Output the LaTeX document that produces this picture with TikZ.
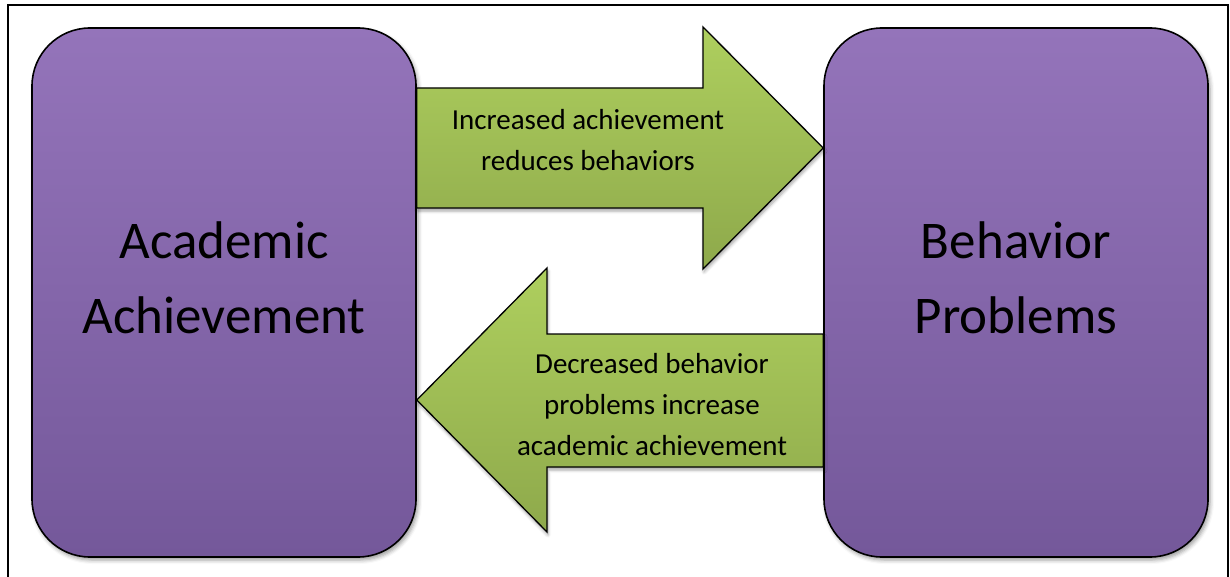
\documentclass[tikz,border=0pt]{standalone}
\usepackage{fontspec}
\setmainfont{Carlito}
\usetikzlibrary{shadows.blur}
\definecolor{purpleTop}{HTML}{9474BA}
\definecolor{purpleBot}{HTML}{74589A}
\definecolor{greenTop}{HTML}{AECF5E}
\definecolor{greenBot}{HTML}{8EA94B}
\begin{document}
\begin{tikzpicture}[x=1pt,y=-1pt,
  box/.style={draw=black, line width=1.6pt, rounded corners=58pt, minimum width=384pt, minimum height=529pt,
    top color=purpleTop, bottom color=purpleBot, inner sep=0pt,
    blur shadow={shadow xshift=2pt, shadow yshift=-3pt, shadow blur radius=4pt, shadow opacity=40}},
  bigtext/.style={font=\fontsize{53}{75}\selectfont, align=center, text=black},
  arrowtext/.style={font=\fontsize{29}{41}\selectfont, align=center, text=black},
  arrowshape/.style={draw=black, line width=1.3pt, top color=greenTop, bottom color=greenBot, line join=miter,
    blur shadow={shadow xshift=1pt, shadow yshift=-3pt, shadow blur radius=3pt, shadow opacity=35}}
]
\useasboundingbox (0,0) rectangle (1230,577);
\begin{scope}
  \clip (0,0) rectangle (1230,577);
  \draw[line width=1.3pt] (8,600) -- (8,5) -- (1228,5) -- (1228,600);
\end{scope}

\node[box] (aa) at (224,292.5) {};
\node[box] (bp) at (1016,292.5) {};

\draw[arrowshape] (aa.east |- 0,88) -- (703,88) -- (703,27) -- (bp.west |- 0,148)
  -- (703,269) -- (703,208) -- (aa.east |- 0,208) -- cycle;
\draw[arrowshape] (bp.west |- 0,334) -- (547,334) -- (547,268) -- (aa.east |- 0,400)
  -- (547,532) -- (547,467) -- (bp.west |- 0,467) -- cycle;

\node[bigtext] (aat) at ([yshift=15pt]aa.center) {Academic\\Achievement};
\node[bigtext] (bpt) at ([yshift=15pt]bp.center) {Behavior\\Problems};
\node[arrowtext] (t1) at (588,140) {Increased achievement\\reduces behaviors};
\node[arrowtext] (t2) at (652,405) {Decreased behavior\\problems increase\\academic achievement};
\end{tikzpicture}
\end{document}
